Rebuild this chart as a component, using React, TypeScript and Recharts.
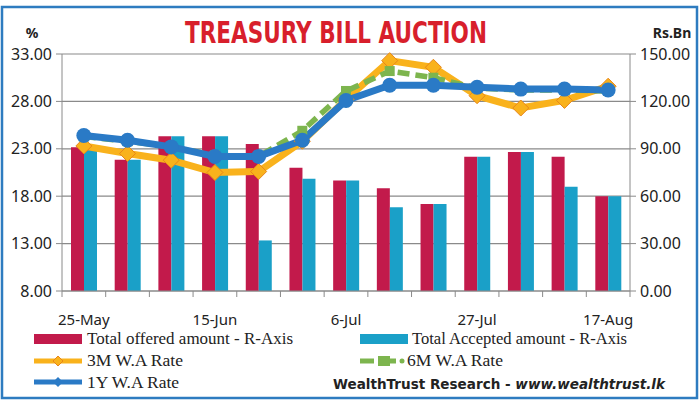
import { ComposedChart, Bar, Line, XAxis, YAxis, CartesianGrid } from 'recharts'

const weeks = ['25-May', '1-Jun', '8-Jun', '15-Jun', '22-Jun', '29-Jun', '6-Jul', '13-Jul', '20-Jul', '27-Jul', '3-Aug', '10-Aug', '17-Aug']
const offered = [91, 83, 98, 98, 93, 78, 70, 65, 55, 85, 88, 85, 60]
const accepted = [90, 83, 98, 98, 32, 71, 70, 53, 55, 85, 88, 66, 60]
const rate3M = [23.3, 22.5, 21.8, 20.5, 20.6, 23.8, 28.2, 32.3, 31.6, 28.6, 27.3, 28.1, 29.6]
const rate6M = [24.3, 23.8, 23.2, 22.3, 22.2, 24.9, 29.1, 31.2, 30.5, 29.4, 29.2, 29.2, 29.1]
const rate1Y = [24.4, 23.9, 23.2, 22.2, 22.2, 23.9, 28.1, 29.7, 29.7, 29.5, 29.3, 29.3, 29.2]
const leftTicks = [8, 13, 18, 23, 28, 33]
const rightTicks = [0, 30, 60, 90, 120, 150]

const data = weeks.map((week, i) => ({
  week,
  offered: offered[i],
  accepted: accepted[i],
  r3m: rate3M[i],
  r6m: rate6M[i],
  r1y: rate1Y[i]
}))

const RED = '#C21A4B'
const CYAN = '#1AA0C8'
const ORANGE = '#F9B21C'
const GREEN = '#7DB54E'
const BLUE = '#2A7AC6'
const GRID = '#8a8a8a'
const FONT = '"Noto Sans", sans-serif'

const PLOT_W = 700 - 62 - 70
const BAND = PLOT_W / weeks.length

const Diamond = ({ cx, cy, index }: any) => (
  <path
    key={`d-${index}`}
    d={`M${cx},${cy - 8} L${cx + 8},${cy} L${cx},${cy + 8} L${cx - 8},${cy} Z`}
    fill={ORANGE}
    stroke="#E8861A"
    strokeWidth={1}
  />
)

const Square = ({ cx, cy, index }: any) => (
  <rect key={`s-${index}`} x={cx - 5} y={cy - 5} width={10} height={10} fill={GREEN} />
)

const Circle = ({ cx, cy, index }: any) => (
  <circle key={`c-${index}`} cx={cx} cy={cy} r={7.5} fill={BLUE} />
)

const WeekTick = ({ x, y, payload }: any) => {
  const idx = payload.index
  const left = x - BAND / 2
  return (
    <g>
      <line x1={left} y1={y} x2={left} y2={y + 6} stroke={GRID} />
      {idx === weeks.length - 1 && <line x1={x + BAND / 2} y1={y} x2={x + BAND / 2} y2={y + 6} stroke={GRID} />}
      {idx % 3 === 0 && (
        <text x={x} y={y + 34} textAnchor="middle" fontSize={15} fontFamily={FONT} fill="#222">
          {payload.value}
        </text>
      )}
    </g>
  )
}

export default function App() {
  return (
    <div style={{ position: 'absolute', left: 0, top: 0, width: 700, height: 400, background: '#fff' }}>
      <ComposedChart
        width={700}
        height={400}
        data={data}
        barGap={0}
        margin={{ top: 54, right: 0, bottom: 79, left: 0 }}
      >
        <CartesianGrid yAxisId="left" vertical={false} stroke={GRID} strokeWidth={1.2} />
        <XAxis
          dataKey="week"
          interval={0}
          tickSize={0}
          tickMargin={0}
          height={30}
          tick={<WeekTick />}
          axisLine={{ stroke: GRID }}
        />
        <YAxis
          yAxisId="left"
          domain={[8, 33]}
          ticks={leftTicks}
          tickFormatter={(v: number) => v.toFixed(2)}
          width={62}
          tickSize={6}
          tickMargin={4}
          axisLine={{ stroke: GRID }}
          tickLine={{ stroke: GRID }}
          tick={{ fontSize: 16, fontFamily: FONT, fill: '#222' }}
        />
        <YAxis
          yAxisId="right"
          orientation="right"
          domain={[0, 150]}
          ticks={rightTicks}
          tickFormatter={(v: number) => v.toFixed(2)}
          width={70}
          tickSize={6}
          tickMargin={4}
          axisLine={{ stroke: GRID }}
          tickLine={{ stroke: GRID }}
          tick={{ fontSize: 16, fontFamily: FONT, fill: '#222', textAnchor: 'start' }}
        />
        <Bar yAxisId="right" dataKey="offered" fill={RED} barSize={13} isAnimationActive={false} />
        <Bar yAxisId="right" dataKey="accepted" fill={CYAN} barSize={13} isAnimationActive={false} />
        <Line yAxisId="left" dataKey="r3m" stroke={ORANGE} strokeWidth={7} dot={<Diamond />} isAnimationActive={false} />
        <Line yAxisId="left" dataKey="r6m" stroke={GREEN} strokeWidth={5.5} strokeDasharray="12 6" dot={<Square />} isAnimationActive={false} />
        <Line yAxisId="left" dataKey="r1y" stroke={BLUE} strokeWidth={7} dot={<Circle />} isAnimationActive={false} />
      </ComposedChart>

      <svg width={700} height={400} style={{ position: 'absolute', left: 0, top: 0, pointerEvents: 'none' }}>
        <rect x={2} y={7} width={695} height={391} fill="none" stroke="#2E7CC0" strokeWidth={2.5} />
        <text
          x={185}
          y={43}
          fontSize={31}
          fontWeight="bold"
          fontFamily='"DejaVu Sans Condensed", "DejaVu Sans", sans-serif'
          fill="#D81F2C"
          textLength={302}
          lengthAdjust="spacingAndGlyphs"
        >
          TREASURY BILL AUCTION
        </text>
        <text x={32} y={38} textAnchor="middle" fontSize={14} fontWeight="bold" fontFamily={FONT} fill="#222">%</text>
        <text x={672} y={38} textAnchor="middle" fontSize={14} fontWeight="bold" fontFamily={FONT} fill="#222">Rs.Bn</text>

        {/* legend */}
        <g fontFamily='"Liberation Serif", serif' fontSize={16} fill="#222">
          <rect x={34} y={334} width={48} height={10} fill={RED} />
          <text x={87} y={344} textLength={206} lengthAdjust="spacingAndGlyphs">Total offered amount - R-Axis</text>

          <rect x={360} y={334} width={48} height={10} fill={CYAN} />
          <text x={412} y={344} textLength={215} lengthAdjust="spacingAndGlyphs">Total Accepted amount - R-Axis</text>

          <line x1={34} y1={361} x2={82} y2={361} stroke={ORANGE} strokeWidth={5} />
          <path d="M58,356 L63,361 L58,366 L53,361 Z" fill={ORANGE} stroke="#E8861A" />
          <text x={87} y={366} textLength={96} lengthAdjust="spacingAndGlyphs">3M W.A Rate</text>

          <line x1={360} y1={361} x2={374} y2={361} stroke={GREEN} strokeWidth={5} />
          <rect x={378} y={356} width={12} height={10} fill={GREEN} />
          <line x1={390} y1={361} x2={396} y2={361} stroke={GREEN} strokeWidth={5} />
          <circle cx={402} cy={361} r={2.5} fill={GREEN} />
          <text x={407} y={366} textLength={96} lengthAdjust="spacingAndGlyphs">6M W.A Rate</text>

          <line x1={34} y1={382} x2={82} y2={382} stroke={BLUE} strokeWidth={5} />
          <path d="M58,377 L63,382 L58,387 L53,382 Z" fill={BLUE} />
          <text x={87} y={388} textLength={92} lengthAdjust="spacingAndGlyphs">1Y W.A Rate</text>
        </g>
        <text x={333} y={389} fontSize={14} fontWeight="bold" fontFamily='"DejaVu Sans", sans-serif' fill="#222" textLength={332} lengthAdjust="spacingAndGlyphs">
          WealthTrust Research - <tspan fontStyle="italic">www.wealthtrust.lk</tspan>
        </text>
      </svg>
    </div>
  )
}
